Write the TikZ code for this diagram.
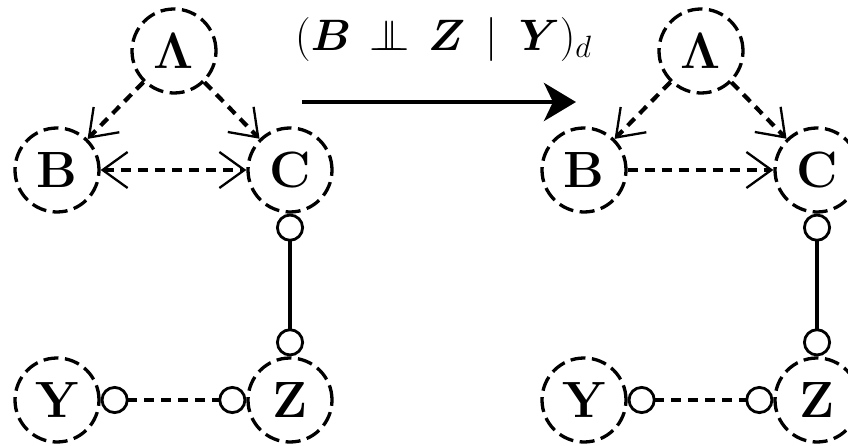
\RequirePackage{fix-cm}
\documentclass[tikz,border=0pt]{standalone}
\usepackage{amsmath,amssymb,bm}
\usetikzlibrary{arrows.meta}

\tikzset{
  barb/.tip={Straight Barb[length=25pt,width=36pt,line width=2.3pt]},
  ring/.tip={Circle[open,length=28pt,width=28pt,line width=2.8pt]},
}
\newcommand{\indep}{\mathrel{\perp\mkern-11.5mu\perp}}

\begin{document}
\begin{tikzpicture}[x=1pt,y=-1pt,
  var/.style={circle,draw,line width=3.3pt,dash pattern=on 15pt off 6.5pt,
    minimum size=84pt,inner sep=0pt,font=\fontsize{51}{51}\selectfont\bfseries},
  dedge/.style={line width=4.2pt,dash pattern=on 10pt off 7pt},
  sedge/.style={line width=3.2pt},
  mainarrow/.style={line width=4.4pt,-{Stealth[length=32pt,width=38pt,inset=9pt]}},
]
\useasboundingbox (0,0) rectangle (848,446);

% left graph
\node[var] (L1) at (174,51) {$\mathbf{\Lambda}$};
\node[var] (B1) at (57,170) {B};
\node[var] (C1) at (290,170) {C};
\node[var] (Y1) at (57,400) {Y};
\node[var] (Z1) at (290,400) {Z};

\draw[dedge,-barb] (L1) -- (B1);
\draw[dedge,-barb] (L1) -- (C1);
\draw[dedge,barb-barb] (B1) -- (C1);
\draw[sedge,ring-ring] (C1) -- (Z1);
\draw[dedge,ring-ring] (Y1) -- (Z1);

% transformation arrow with its condition
\coordinate (AS) at (302,102);
\coordinate (AE) at (576,102);
\draw[mainarrow] (AS) -- (AE);
\node[font=\fontsize{44}{50}\selectfont,anchor=base west,inner sep=0pt] (cond) at (295,51)
  {$(\bm{B} \mkern2.5mu\indep\mkern2.5mu \bm{Z} \mkern3.5mu\mid\mkern3.5mu \bm{Y})_d$};

% right graph
\node[var] (L2) at (701,51) {$\mathbf{\Lambda}$};
\node[var] (B2) at (584,170) {B};
\node[var] (C2) at (817,170) {C};
\node[var] (Y2) at (584,400) {Y};
\node[var] (Z2) at (817,400) {Z};

\draw[dedge,-barb] (L2) -- (B2);
\draw[dedge,-barb] (L2) -- (C2);
\draw[dedge,-barb] (B2) -- (C2);
\draw[sedge,ring-ring] (C2) -- (Z2);
\draw[dedge,ring-ring] (Y2) -- (Z2);
\end{tikzpicture}
\end{document}
